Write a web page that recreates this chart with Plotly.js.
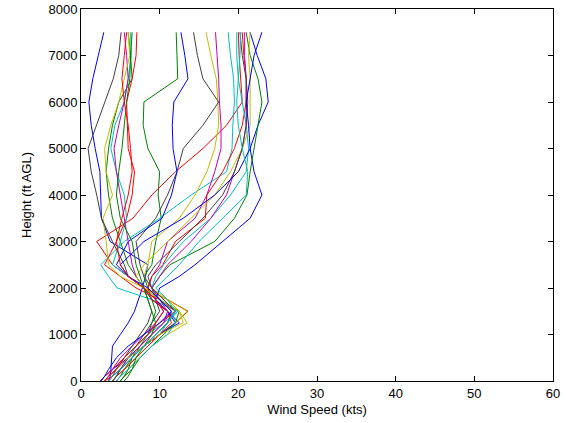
<!DOCTYPE html>
<html><head><meta charset="utf-8">
<script src="https://cdn.plot.ly/plotly-3.0.1.min.js"></script>
<style>html,body{margin:0;padding:0;background:#fff;}#chart{width:566px;height:423px;}</style>
</head><body><div id="chart"></div>
<script>
// Heights (ft AGL)
const heights = [0,100,250,500,750,1000,1250,1500,1750,2000,2250,2500,3000,3500,4000,4500,5000,5500,6000,6500,7000,7500];
// Wind speed profiles (kts), one per sounding
const p01 = [3.5,3.7,3.8,3.9,4.0,5.0,6.0,6.8,7.3,7.8,8.2,8.5,3.7,2.6,2.5,2.4,1.8,1.3,1.0,1.5,2.2,2.9];
const p02 = [4.5,5,5.5,6.5,8,9.5,11,11.5,10,8.5,8,9,9.5,10.2,9.8,10,8.5,7.9,8,12.3,12.2,12.1];
const p03 = [3,4,5,6.5,8,10,12,13.6,11,8,6,4,2.0,6.6,9,12,15.5,18.5,20.5,20.3,20.1,20.0];
const p04 = [4,4.5,5.5,7,8.5,10,11,12.3,9,4.6,3.5,2.5,5.5,10,14,18.5,19.2,19.3,19.5,19.4,19,18.7];
const p05 = [3,3.5,4.5,6,7.5,9,10.5,11.5,10,8.5,9,10,11,14.5,16,17,17.8,17.8,17.6,17.5,17.3,17.1];
const p06 = [5,5.5,6,7.5,9,11,13.5,12.5,11,9,8,8.5,9,12.5,14.5,16,17,17.5,17.4,17.2,16.5,15.9];
const p07 = [4,4.5,5,6,7,8,9,10,9.5,9,8,7.5,7,9.5,11,12.2,13,15.5,17.5,15.5,14.8,14.3];
const p08 = [2.5,3,4,6,8,10,12.5,11,9,8,6,4.5,6,10.3,11.5,12.2,11.7,11.6,11.8,13.6,13.2,12.7];
const p09 = [5,5.5,6,6.5,7.5,8.5,9,9.5,9,8,7,6,5,4,3.5,3.2,3.5,4,4.8,6.5,6.3,6.0];
const p10 = [2.5,3,4,5.5,7,8.5,10,12,10,7,5,3,4.5,5.8,6.5,6.8,6,5.9,5.8,6.5,7,7.1];
const p11 = [4,4.5,5,6,7,8.5,10.5,12.3,10,8,6,4,5,5.8,5.5,4.5,3.8,4.3,5.5,6.0,6.4,6.3];
const p12 = [3,3.5,4,5,6.5,8,9.5,10.5,9.5,8,7,6.5,6,5.5,5,4.5,4.2,4.8,5.5,6,5.8,5.5];
const p13 = [4,4.5,5.5,7,8.5,10,12,13.5,11,8,5,3.5,3.2,2.8,4,3.2,3,3.8,4.8,5.5,6.2,6.0];
const p14 = [3.5,4,4.5,5.5,6.5,7.5,8.5,9,8.5,8,6,5.5,4,2.6,2,1.3,0.9,2.0,3.1,4.1,4.8,5.1];
const p15 = [3,3.5,4.5,6,8,10,12,11,9.5,10,12.5,14.5,18,21.5,23,22,21.5,22.5,23.8,23.5,22.4,21.5];
const p16 = [5.5,6,6.5,7.5,9,10.5,12,12.5,10,9,10,11.3,17,19.5,21.1,21.5,22,22.5,23,22.5,21.5,21];
const p17 = [4,4.5,5.5,7,8.5,10,11.5,11,9,8.5,9,10.4,12,15.8,16,18,19.5,20.5,21,21,20.7,20.5];
const p18 = [4.5,5,6,7.5,9,11,12,11.5,10,9,9.5,10.5,13,16.5,19,21,21.3,21,20.5,20,19.8,19.8];
const p19 = [3.5,4,5,6,7.5,9,10.5,11,10,9,10,11,14,16.5,18.5,19.5,20.5,21,21,21,20.8,20.8];
const p20 = [3,3.5,4.5,6,8,10,13,12.5,10,8,7,8,11,14,17,19,20.5,21.5,21.5,21.5,21.3,21.5];
const p21 = [4,4.5,5,6.5,8,9.5,11,12,10.5,9,8.5,9.5,12.5,15.5,18,19.5,20.5,21,21.2,21,20.5,20.2];
const p22 = [2.5,3,3.5,4.5,6,8,10,11.5,10,8.5,6,5,8,13,17,20,21.5,21.3,21,21.5,22,23];
const p23 = [5,5.5,6.5,7,8,9,9.5,9,8.5,8,7.5,7,6.5,5,4.5,4.8,5.2,5.5,5.8,6.2,6.3,6.5];
const p24 = [3,3.5,4.5,5.5,7,8.5,9.5,10.5,9.5,8,6,5,4.5,5.2,6,6.5,6.3,6,5.5,5.2,5.5,5.8];
const p25 = [3.5,4,5,6.5,8,9.5,11,12,11,9.5,11,12.5,15,18,21,21.2,20.5,20,19.8,20,20.2,20.3];
const profiles = [p01,p02,p03,p04,p05,p06,p07,p08,p09,p10,p11,p12,p13,p14,p15,p16,p17,p18,p19,p20,p21,p22,p23,p24,p25];
const colors = ['#0000ff','#008000','#ff0000','#00bfbf','#bf00bf','#bfbf00','#404040'];

const traces = profiles.map((p,i)=>({
  x: p, y: heights, type:'scatter', mode:'lines',
  line:{color: colors[i%colors.length], width:1}, hoverinfo:'skip'
}));
const font = {family:'Liberation Sans, Arial, sans-serif', size:13, color:'#000'};
const layout = {
  width:566, height:423, showlegend:false,
  paper_bgcolor:'#fff', plot_bgcolor:'#fff',
  margin:{l:81, r:13, t:9, b:42},
  font: font,
  xaxis:{range:[0,60], dtick:10, tick0:0, showgrid:false, zeroline:false,
    showline:true, linecolor:'#000', linewidth:1, mirror:'ticks',
    ticks:'inside', ticklen:5, tickcolor:'#000',
    title:{text:'Wind Speed (kts)', font:font, standoff:5}},
  yaxis:{range:[0,8000], dtick:1000, tick0:0, showgrid:false, zeroline:false,
    showline:true, linecolor:'#000', linewidth:1, mirror:'ticks',
    ticks:'inside', ticklen:5, tickcolor:'#000',
    title:{text:'Height (ft AGL)', font:font, standoff:13}}
};
Plotly.newPlot('chart', traces, layout, {staticPlot:true, displayModeBar:false});
</script></body></html>
